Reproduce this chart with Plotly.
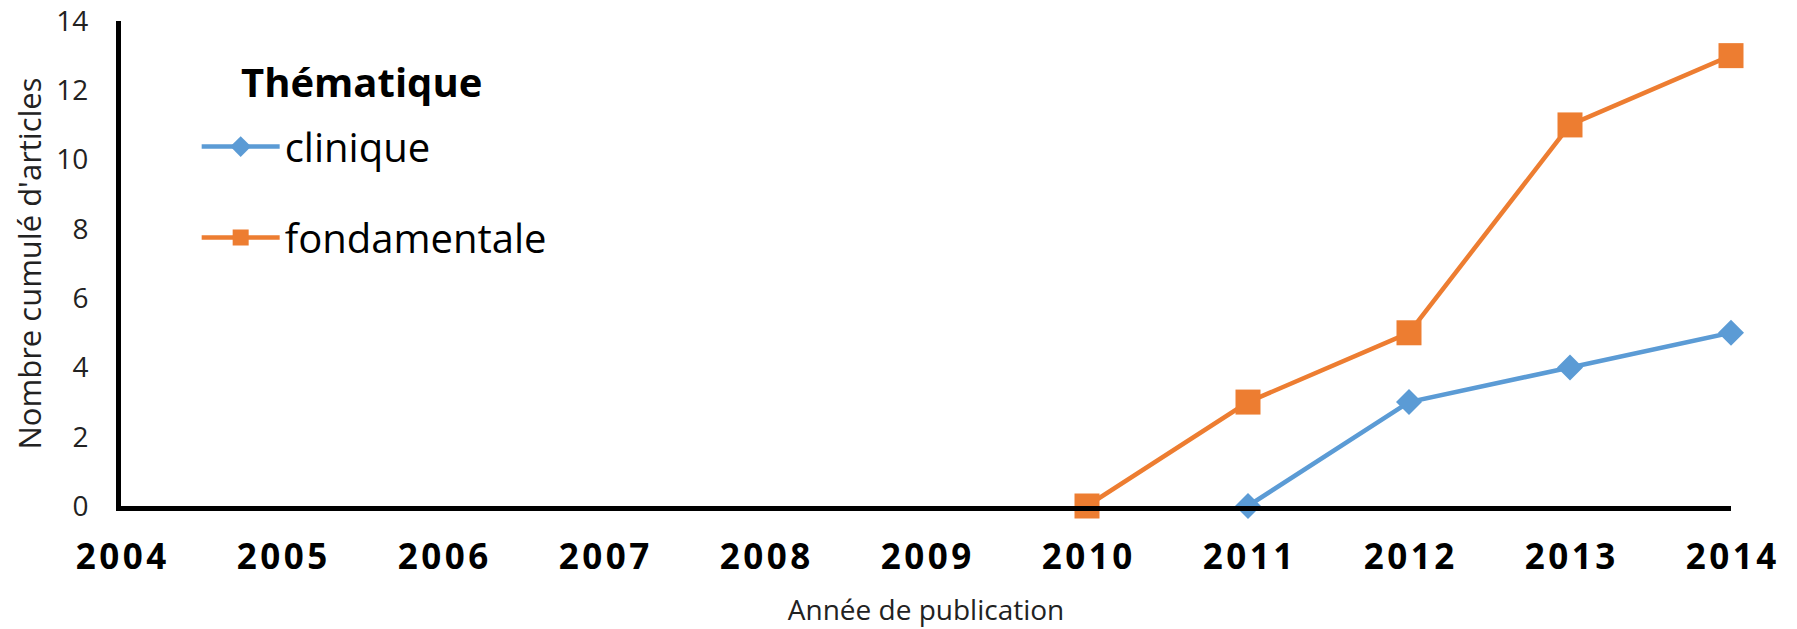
import plotly.graph_objects as go

years_clin = [2011, 2012, 2013, 2014]
clinique = [0, 3, 4, 5]
years_fond = [2010, 2011, 2012, 2013, 2014]
fondamentale = [0, 3, 5, 11, 13]
tick_years = list(range(2004, 2015))
tick_labels = ["\u200a".join(str(y)) for y in tick_years]
legend_title = "Thématique"

fig = go.Figure()
fig.add_trace(go.Scatter(
    x=years_clin, y=clinique, name="clinique", mode="lines+markers",
    line=dict(color="#5B9BD5", width=4.5),
    marker=dict(symbol="diamond", size=20, color="#5B9BD5"),
    cliponaxis=False, legendgroup="a"))
fig.add_trace(go.Scatter(
    x=years_fond, y=fondamentale, name="fondamentale", mode="lines+markers",
    line=dict(color="#ED7D31", width=4.5),
    marker=dict(symbol="square", size=25, color="#ED7D31"),
    cliponaxis=False, legendgroup="b"))

fig.add_annotation(
    text="<b>" + legend_title + "</b>", xref="paper", yref="paper",
    x=0.0733, y=0.875, xanchor="left", yanchor="middle", showarrow=False,
    font=dict(size=40, color="black", family="Open Sans, sans-serif"))

fig.update_layout(
    width=1797, height=629,
    margin=dict(l=113, r=74, t=13, b=131),
    plot_bgcolor="white", paper_bgcolor="white",
    font=dict(family="Open Sans, Liberation Sans, sans-serif", color="#222"),
    showlegend=True,
    legend=dict(
        x=0.047, y=0.808, xanchor="left", yanchor="top",
        font=dict(size=40, color="black"),
        bgcolor="rgba(0,0,0,0)", tracegroupgap=36, itemwidth=78,
    ),
    xaxis=dict(
        range=[2004, 2014], tickvals=tick_years, ticktext=tick_labels,
        showgrid=False, zeroline=False, showline=True, linecolor="black", linewidth=5,
        ticks="", tickfont=dict(size=35, color="black", family="Open Sans, sans-serif", weight="bold"),
        ticklabelstandoff=16, ticklabeloverflow="allow", automargin=False,
        title=dict(text="Année de publication", font=dict(size=28, color="#222"), standoff=24),
    ),
    yaxis=dict(
        range=[0, 14], dtick=2, showgrid=False, zeroline=False,
        showline=True, linecolor="black", linewidth=5, ticks="",
        tickfont=dict(size=28, color="#222"),
        ticklabelstandoff=22, ticklabeloverflow="allow", automargin=False,
        title=dict(text="Nombre cumulé d'articles", font=dict(size=31, color="#222"), standoff=11),
    ),
)
fig.write_html("out.html")
